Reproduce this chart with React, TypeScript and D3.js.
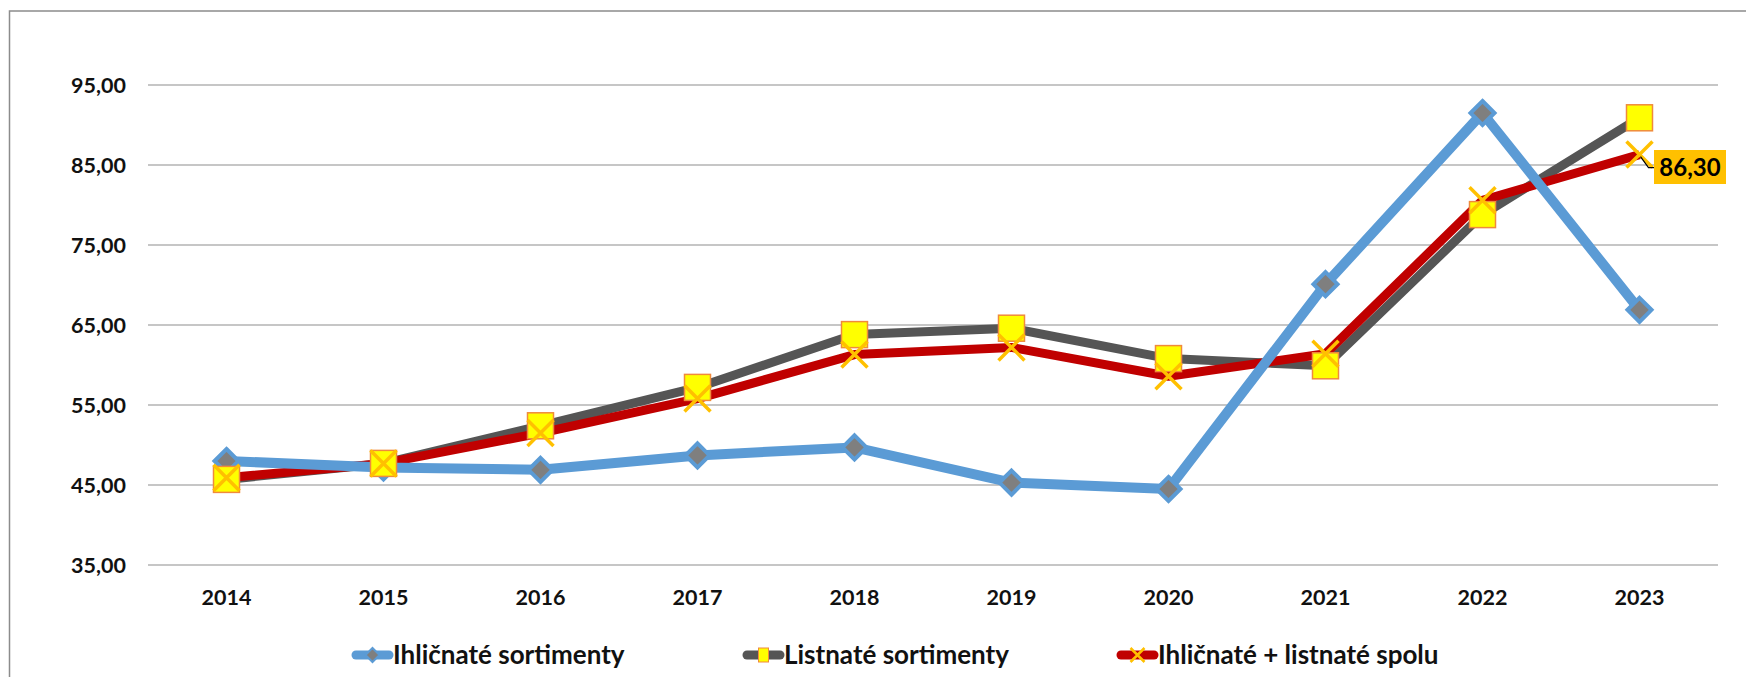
import React from "react";
import * as d3 from "d3";

const years = ["2014", "2015", "2016", "2017", "2018", "2019", "2020", "2021", "2022", "2023"];
const ihlicnate = [48.0, 47.2, 46.9, 48.7, 49.7, 45.3, 44.5, 70.1, 91.5, 66.9];
const listnate = [45.7, 47.7, 52.4, 57.2, 63.8, 64.6, 60.8, 59.9, 78.8, 90.9];
const spolu = [45.9, 47.7, 51.5, 55.8, 61.3, 62.2, 58.6, 61.4, 80.6, 86.3];
const yTicks = [35, 45, 55, 65, 75, 85, 95];
const seriesNames = ["Ihličnaté sortimenty", "Listnaté sortimenty", "Ihličnaté + listnaté spolu"];

const W = 1746;
const H = 677;
const FONT = "Lato, 'Open Sans', sans-serif";

const App = () => {
  const x = d3.scaleBand().domain(years).range([148, 1718]);
  const y = d3.scaleLinear().domain([35, 95]).range([565, 85]);
  const cx = (yr: string) => (x(yr) as number) + x.bandwidth() / 2;
  const fmt = (v: number) => d3.format(".2f")(v).replace(".", ",");

  const line = d3
    .line<number>()
    .x((_, i) => cx(years[i]))
    .y((d) => y(d));

  const diamond = (px: number, py: number, r: number) =>
    `M${px},${py - r}L${px + r},${py}L${px},${py + r}L${px - r},${py}Z`;
  const cross = (px: number, py: number, r: number) =>
    `M${px - r},${py - r}L${px + r},${py + r}M${px - r},${py + r}L${px + r},${py - r}`;

  const last = years.length - 1;
  const lx = cx(years[last]);
  const ly = y(spolu[last]);

  // legend positions
  const legend = [
    { x: 352, name: seriesNames[0] },
    { x: 743, name: seriesNames[1] },
    { x: 1117, name: seriesNames[2] },
  ];
  const legY = 655;

  return (
    <svg
      width={W}
      height={H}
      style={{ position: "absolute", left: 0, top: 0, background: "#fff" }}
      fontFamily={FONT}
    >
      <rect x={9.5} y={11} width={W + 20} height={H + 20} fill="#fff" stroke="#8c8c8c" strokeWidth={1.5} />

      {/* gridlines + y labels */}
      {yTicks.map((t) => (
        <g key={t}>
          <line x1={148} x2={1718} y1={y(t)} y2={y(t)} stroke="#b3b3b3" strokeWidth={1.5} />
          <text x={126} y={y(t)} dy="0.36em" textAnchor="end" fontSize={21.5} fontWeight={700} fill="#111">
            {fmt(t)}
          </text>
        </g>
      ))}

      {/* x labels */}
      {years.map((yr) => (
        <text key={yr} x={cx(yr)} y={605} textAnchor="middle" fontSize={21.5} fontWeight={700} fill="#111">
          {yr}
        </text>
      ))}

      {/* lines */}
      <path d={line(listnate) || ""} fill="none" stroke="#555555" strokeWidth={9} strokeLinejoin="round" />
      <path d={line(spolu) || ""} fill="none" stroke="#C00000" strokeWidth={9} strokeLinejoin="round" />
      <path d={line(ihlicnate) || ""} fill="none" stroke="#5B9BD5" strokeWidth={10} strokeLinejoin="round" />

      {/* markers */}
      {ihlicnate.map((v, i) => (
        <path key={"d" + i} d={diamond(cx(years[i]), y(v), 12)} fill="#7F7F7F" stroke="#5B9BD5" strokeWidth={4} />
      ))}
      {listnate.map((v, i) => (
        <rect
          key={"s" + i}
          x={cx(years[i]) - 13}
          y={y(v) - 13}
          width={26}
          height={26}
          fill="#FFFF00"
          stroke="#F08A3C"
          strokeWidth={1.5}
        />
      ))}
      {spolu.map((v, i) => (
        <path key={"x" + i} d={cross(cx(years[i]), y(v), 13)} fill="none" stroke="#FFC000" strokeWidth={3.5} />
      ))}

      {/* data label */}
      <path d={`M${lx + 1},${ly + 2}L${lx + 9},${ly + 13}L${lx + 15},${ly + 13}`} fill="none" stroke="#000" strokeWidth={1.2} />
      <rect x={1654} y={150} width={72} height={34} fill="#FFC000" />
      <text x={1690} y={167} dy="0.36em" textAnchor="middle" fontSize={24} fontWeight={700} fill="#000">
        {fmt(spolu[last])}
      </text>

      {/* legend */}
      {legend.map((l, i) => {
        const mx = l.x + 20.5;
        return (
          <g key={l.name}>
            <line
              x1={l.x + 4}
              x2={l.x + 37}
              y1={legY}
              y2={legY}
              stroke={["#5B9BD5", "#555555", "#C00000"][i]}
              strokeWidth={9}
              strokeLinecap="round"
            />
            {i === 0 && <path d={diamond(mx, legY, 7)} fill="#7F7F7F" stroke="#5B9BD5" strokeWidth={2} />}
            {i === 1 && (
              <rect x={mx - 5} y={legY - 7} width={10} height={14} fill="#FFFF00" stroke="#F08A3C" strokeWidth={1} />
            )}
            {i === 2 && <path d={cross(mx, legY, 7)} fill="none" stroke="#FFC000" strokeWidth={2.5} />}
            <text x={l.x + 41} y={legY} dy="0.36em" fontSize={26} fontWeight={700} fill="#111">
              {l.name}
            </text>
          </g>
        );
      })}
    </svg>
  );
};

export default App;
